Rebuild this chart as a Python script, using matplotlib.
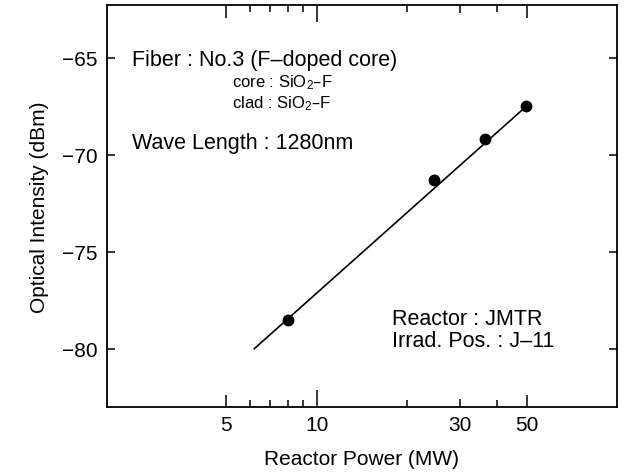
import matplotlib
matplotlib.use('Agg')
import matplotlib.pyplot as plt
from matplotlib.ticker import FixedLocator, NullFormatter

plt.rcParams['font.family'] = ['Liberation Sans', 'DejaVu Sans']
plt.rcParams['mathtext.default'] = 'regular'

# measured points
power = [8.0, 24.5, 36.3, 49.7]
intensity = [-78.5, -71.3, -69.2, -67.5]

# fitted line
fit_power = [6.2, 50.0]
fit_intensity = [-80.0, -67.5]

xticks = [5, 10, 30, 50]
xticklabels = ['5', '10', '30', '50']
xminor = [6, 7, 8, 9, 20, 40]
yticks = [-80, -75, -70, -65]

fig = plt.figure(figsize=(6.25, 4.77), dpi=100)
ax = fig.add_axes([0.171, 0.145, 0.816, 0.842])

ax.plot(fit_power, fit_intensity, color='black', lw=1.2)
ax.plot(power, intensity, 'o', color='black', ms=7.5)

ax.set_xscale('log')
ax.set_xlim(2, 100)
ax.set_ylim(-83.0, -62.3)

ax.xaxis.set_major_locator(FixedLocator(xticks))
ax.xaxis.set_minor_locator(FixedLocator(xminor))
ax.xaxis.set_minor_formatter(NullFormatter())
ax.set_xticklabels(xticklabels)
ax.set_yticks(yticks)

ax.tick_params(axis='both', which='both', direction='in', top=True, right=True,
               width=1.1, labelsize=15)
ax.tick_params(axis='x', which='major', pad=6)
ax.tick_params(axis='y', which='major', length=6, pad=7)
ax.tick_params(axis='x', which='minor', length=5)

# individual tick lengths on x
xlens = [9, 12, 6, 9]
for t, ln in zip(ax.xaxis.get_major_ticks(), xlens):
    t.tick1line.set_markersize(ln)
    t.tick2line.set_markersize(ln)

for s in ax.spines.values():
    s.set_linewidth(1.3)

ax.set_xlabel('Reactor Power (MW)', fontsize=15, labelpad=11)
ax.set_ylabel('Optical Intensity (dBm)', fontsize=15, labelpad=9)

ax.text(0.05, 0.866, 'Fiber : No.3 (F–doped core)', transform=ax.transAxes,
        fontsize=15.5, va='center', ha='left')
ax.text(0.245, 0.81, 'core : SiO$_{2}$–F', transform=ax.transAxes,
        fontsize=12, va='center', ha='left')
ax.text(0.245, 0.757, 'clad : SiO$_{2}$–F', transform=ax.transAxes,
        fontsize=12, va='center', ha='left')
ax.text(0.05, 0.657, 'Wave Length : 1280nm', transform=ax.transAxes,
        fontsize=15.5, va='center', ha='left')
ax.text(0.56, 0.219, 'Reactor : JMTR', transform=ax.transAxes,
        fontsize=15.5, va='center', ha='left')
ax.text(0.56, 0.164, 'Irrad. Pos. : J–11', transform=ax.transAxes,
        fontsize=15.5, va='center', ha='left')

fig.savefig('out.png', dpi=100)
